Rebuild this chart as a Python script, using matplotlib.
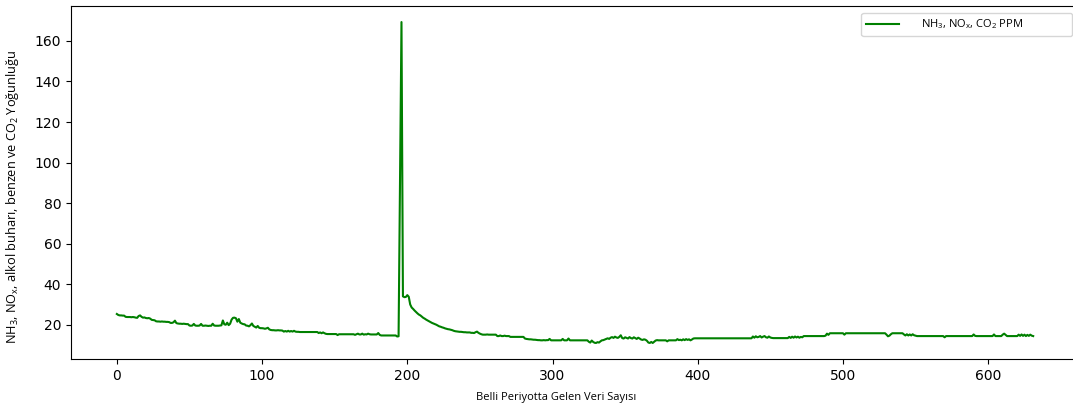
import matplotlib
matplotlib.use("Agg")
import matplotlib.pyplot as plt
import numpy as np

# sensor readings, one value per sample
conc_000 = [
    25.3, 24.8, 24.6, 24.6, 24.5, 24.5, 23.9, 23.8, 23.8, 23.8,
    23.7, 23.8, 23.7, 23.5, 23.4, 24.3, 24.6, 23.9, 23.5, 23.6,
    23.3, 23.2, 23.3, 23.0, 22.4, 22.3, 22.2, 21.7, 21.6, 21.6,
    21.5, 21.6, 21.5, 21.5, 21.4, 21.4, 21.3, 20.9, 20.9, 21.2,
    22.0, 20.8, 20.6, 20.5, 20.5, 20.4, 20.5, 20.4, 20.3, 20.3,
    19.6, 19.5, 19.6, 20.4, 19.6, 19.5, 19.5, 19.6, 20.4, 19.5,
    19.5, 19.6, 19.5, 19.4, 19.5, 19.5, 20.5, 19.6, 19.5, 19.5,
    19.5, 19.6, 19.7, 22.1, 20.2, 20.0, 21.0, 19.8, 20.5, 22.5,
    23.4, 23.5, 23.2, 21.5, 22.8, 21.0, 20.6, 20.3, 20.2, 19.6,
    19.5, 19.2, 19.8, 20.6, 19.4, 19.0, 18.6, 19.4, 18.5, 18.3,
]
conc_100 = [
    18.3, 18.2, 18.0, 18.2, 18.5, 17.7, 17.4, 17.3, 17.3, 17.2,
    17.2, 17.3, 17.2, 17.2, 17.1, 16.6, 16.9, 16.6, 17.0, 16.6,
    16.9, 16.6, 17.0, 16.6, 16.5, 16.5, 16.4, 16.4, 16.4, 16.4,
    16.4, 16.4, 16.4, 16.4, 16.4, 16.4, 16.4, 16.4, 16.4, 15.9,
    16.2, 15.8, 16.2, 15.8, 15.5, 15.4, 15.4, 15.4, 15.4, 15.4,
    15.4, 15.4, 14.9, 15.3, 15.3, 15.3, 15.3, 15.3, 15.3, 15.3,
    15.3, 15.3, 15.3, 15.3, 15.0, 15.3, 15.6, 15.2, 15.2, 15.6,
    15.1, 15.3, 15.2, 15.6, 15.3, 15.2, 15.2, 15.2, 15.2, 15.2,
    15.9, 15.0, 14.7, 14.7, 14.7, 14.7, 14.7, 14.7, 14.7, 14.7,
    14.7, 14.7, 14.7, 14.2, 14.3, 91.5, 169.3, 34.0, 33.6, 33.7,
]
conc_200 = [
    34.6, 33.8, 30.0, 28.5, 27.8, 27.0, 26.3, 25.6, 25.0, 24.6,
    24.0, 23.4, 23.0, 22.5, 22.1, 21.7, 21.3, 20.9, 20.6, 20.3,
    20.0, 19.6, 19.2, 19.0, 18.7, 18.5, 18.2, 18.0, 17.8, 17.7,
    17.5, 17.3, 17.0, 16.8, 16.7, 16.6, 16.5, 16.5, 16.4, 16.3,
    16.3, 16.2, 16.2, 16.2, 16.0, 16.0, 15.9, 16.3, 16.6, 16.0,
    15.6, 15.3, 15.1, 15.1, 15.1, 15.2, 15.1, 15.1, 15.1, 15.1,
    15.1, 15.1, 14.4, 14.4, 14.7, 14.4, 14.4, 14.6, 14.4, 14.4,
    14.4, 14.0, 14.0, 14.0, 14.0, 14.0, 14.0, 14.0, 14.0, 14.0,
    14.0, 13.2, 13.0, 12.9, 12.8, 12.8, 12.7, 12.6, 12.6, 12.5,
    12.4, 12.4, 12.3, 12.3, 12.4, 12.3, 12.4, 12.4, 13.0, 12.3,
]
conc_300 = [
    12.3, 12.3, 12.3, 12.3, 12.3, 12.3, 12.3, 13.0, 12.3, 12.3,
    12.3, 13.2, 12.3, 12.3, 12.3, 12.3, 12.3, 12.3, 12.3, 12.3,
    12.3, 12.3, 12.3, 12.3, 12.3, 11.6, 11.2, 12.2, 11.5, 11.1,
    11.0, 11.4, 11.2, 11.8, 12.3, 12.4, 12.7, 13.0, 13.3, 13.0,
    13.6, 13.9, 13.5, 14.1, 13.7, 13.5, 14.0, 14.8, 13.4, 13.2,
    13.8, 13.5, 13.2, 13.9, 13.4, 13.2, 13.8, 13.4, 13.0, 13.6,
    13.2, 12.7, 12.5, 12.8, 12.6, 12.1, 11.2, 11.0, 11.5, 11.0,
    11.6, 12.2, 12.4, 12.3, 12.3, 12.3, 12.3, 12.3, 12.3, 11.8,
    12.3, 12.3, 12.3, 12.3, 12.3, 12.3, 12.9, 12.4, 12.6, 12.3,
    12.8, 12.4, 12.9, 12.5, 12.8, 12.3, 12.7, 13.2, 13.3, 13.3,
]
conc_400 = [
    13.3, 13.3, 13.3, 13.3, 13.3, 13.3, 13.3, 13.3, 13.3, 13.3,
    13.3, 13.3, 13.3, 13.3, 13.3, 13.3, 13.3, 13.3, 13.3, 13.3,
    13.3, 13.3, 13.3, 13.3, 13.3, 13.3, 13.3, 13.3, 13.3, 13.3,
    13.3, 13.3, 13.3, 13.3, 13.3, 13.3, 13.3, 13.3, 14.2, 13.6,
    14.3, 13.8, 14.0, 14.4, 13.7, 14.1, 14.4, 13.8, 13.6, 14.2,
    13.7, 13.5, 13.4, 13.4, 13.4, 13.4, 13.4, 13.4, 13.4, 13.4,
    13.4, 13.4, 13.4, 14.0, 13.5, 14.1, 13.6, 14.2, 13.7, 14.1,
    13.6, 14.0, 13.8, 14.4, 14.4, 14.4, 14.4, 14.4, 14.4, 14.4,
    14.4, 14.4, 14.4, 14.4, 14.4, 14.4, 14.4, 14.4, 14.6, 15.6,
    15.0, 15.8, 15.8, 15.8, 15.8, 15.8, 15.8, 15.8, 15.8, 15.8,
]
conc_500 = [
    15.8, 15.1, 15.8, 15.8, 15.8, 15.8, 15.8, 15.8, 15.8, 15.8,
    15.8, 15.8, 15.8, 15.8, 15.8, 15.8, 15.8, 15.8, 15.8, 15.8,
    15.8, 15.8, 15.8, 15.8, 15.8, 15.8, 15.8, 15.8, 15.8, 15.8,
    15.1, 14.3, 14.6, 15.3, 15.8, 15.8, 15.8, 15.8, 15.8, 15.8,
    15.8, 15.8, 15.2, 14.7, 15.3, 14.7, 15.2, 14.7, 15.3, 14.8,
    14.6, 14.4, 14.4, 14.4, 14.4, 14.4, 14.4, 14.4, 14.4, 14.4,
    14.4, 14.4, 14.4, 14.4, 14.4, 14.4, 14.4, 14.4, 14.4, 14.4,
    13.8, 14.4, 14.4, 14.4, 14.4, 14.4, 14.4, 14.4, 14.4, 14.4,
    14.4, 14.4, 14.4, 14.4, 14.4, 14.4, 14.4, 14.4, 14.4, 14.4,
    15.2, 14.5, 14.4, 14.4, 14.4, 14.4, 14.4, 14.4, 14.4, 14.4,
]
conc_600 = [
    14.4, 14.4, 14.4, 14.4, 15.2, 14.4, 14.4, 14.4, 14.4, 14.4,
    15.1, 15.6, 15.0, 14.4, 14.4, 14.4, 14.4, 14.4, 14.4, 14.4,
    14.4, 15.1, 14.5, 15.2, 14.5, 15.1, 14.4, 15.0, 14.5, 15.1,
    14.6, 14.4,
]

series = np.array(conc_000 + conc_100 + conc_200 + conc_300 +
                  conc_400 + conc_500 + conc_600)
samples = np.arange(len(series))

label_font = "Open Sans"
plt.rcParams["mathtext.fontset"] = "custom"
plt.rcParams["mathtext.rm"] = label_font
plt.rcParams["mathtext.it"] = label_font

fig = plt.figure(figsize=(10.73, 4.12), dpi=100)
ax = fig.add_axes([0.0662, 0.1286, 0.9394, 0.8568])

ax.plot(samples, series, color="green", linewidth=1.5,
        label=r"NH$_3$, NO$_x$, CO$_2$ PPM")

ax.set_yticks([20, 40, 60, 80, 100, 120, 140, 160])
ax.set_xticks([0, 100, 200, 300, 400, 500, 600])

ax.set_xlabel("Belli Periyotta Gelen Veri Sayısı", fontfamily=label_font,
              fontsize=8)
ax.xaxis.set_label_coords(0.481, -0.093)
ax.set_ylabel(r"NH$_3$, NO$_x$, alkol buharı, benzen ve CO$_2$ Yoğunluğu",
              fontfamily=label_font, fontsize=9.2)
ax.yaxis.set_label_coords(-0.050, 0.459)

leg = ax.legend(loc="upper left", bbox_to_anchor=(0.784, 0.909, 0.209, 0.071),
                mode="expand", prop={"family": label_font, "size": 8},
                handlelength=3.0, handletextpad=2.0, borderaxespad=0)

fig.savefig("out.png", dpi=100)
